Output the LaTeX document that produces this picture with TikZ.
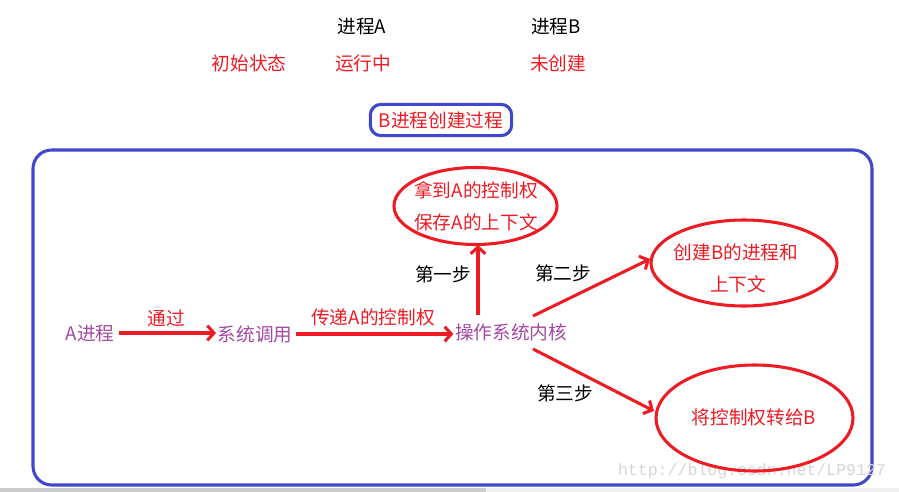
\documentclass[tikz,border=0pt]{standalone}
\usepackage{fontspec}
\setmainfont{Noto Sans CJK SC}
\newfontfamily\wmfont{Liberation Mono}
\usetikzlibrary{arrows.meta,shapes.geometric}
\definecolor{pred}{RGB}{237,28,36}
\definecolor{pblue}{RGB}{63,72,204}
\definecolor{ppurple}{RGB}{163,73,164}
\tikzset{
  txt/.style={inner sep=1pt, font=\fontsize{14}{16}\selectfont},
  rtxt/.style={txt, text=pred},
  btxt/.style={txt, text=black},
  ptxt/.style={txt, text=ppurple},
  flow/.style={draw=pred, line width=2.3pt, -{Straight Barb[length=5pt,width=11pt,line width=2.3pt]}},
  frame/.style={draw=pblue, line width=2.3pt, rounded corners=14pt}
}
\begin{document}
\begin{tikzpicture}[x=0.75pt,y=-0.75pt]
\useasboundingbox (0,0) rectangle (899,492);
\fill[white] (0,0) rectangle (899,492);
% scrollbar strip
\fill[black!6] (0,488) rectangle (899,492);
\fill[black!20] (0,488) rectangle (486,492);

% header
\node[btxt] (hA) at (362,27) {进程A};
\node[btxt] (hB) at (556,27) {进程B};
\node[rtxt] (s0) at (249,63) {初始状态};
\node[rtxt] (sA) at (363,63) {运行中};
\node[rtxt] (sB) at (558,63) {未创建};

% title box
\node[rtxt, draw=pblue, line width=2.3pt, rounded corners=8pt, minimum width=106pt, minimum height=23.5pt, inner sep=0pt] (title) at (441,120) {B进程创建过程};

% big frame
\draw[frame] (33,150) rectangle (872,485);

% watermark
\node[text=black!16, font=\wmfont\fontsize{12.4}{14}\selectfont, inner sep=0pt] (wm) at (752,471) {http://blog.csdn.net/LP9127};

% ellipses
\draw[pred, line width=2.3pt] (475.5,206) ellipse (81.5 and 38.5);
\coordinate (e1s) at (478,245);
\node[rtxt] (e1a) at (476,190) {拿到A的控制权};
\node[rtxt] (e1b) at (476,222) {保存A的上下文};

\draw[pred, line width=2.3pt] (744,263) ellipse (93 and 43);
\coordinate (e2w) at (650,259);
\node[rtxt] (e2a) at (736,252) {创建B的进程和};
\node[rtxt] (e2b) at (738,284) {上下文};

\draw[pred, line width=2.3pt] (754.5,418) ellipse (98.5 and 53);
\coordinate (e3w) at (654,411);
\node[rtxt] (e3a) at (754,417) {将控制权转给B};

% main row
\node[ptxt] (pa) at (90,334) {A进程};
\node[ptxt] (sc) at (255,334) {系统调用};
\node[ptxt] (kn) at (511,332) {操作系统内核};

\draw[flow] (pa.east) ++(3,-1) coordinate (a1s) -- (sc.west |- a1s);
\node[rtxt] (l1) at (166,318) {通过};
\draw[flow] (sc.east) ++(2,0) coordinate (a2s) -- (kn.west |- a2s);
\node[rtxt] (l2) at (373,317) {传递A的控制权};

\coordinate (u0) at (478,315);
\draw[flow] (u0) -- (e1s);
\node[btxt] (l3) at (443,274) {第一步};

\coordinate (d0) at (533,316);
\draw[flow] (d0) -- (e2w);
\node[btxt] (l4) at (563,273) {第二步};

\coordinate (t0) at (533,349);
\draw[flow] (t0) -- (e3w);
\node[btxt] (l5) at (565,393) {第三步};
\end{tikzpicture}
\end{document}
